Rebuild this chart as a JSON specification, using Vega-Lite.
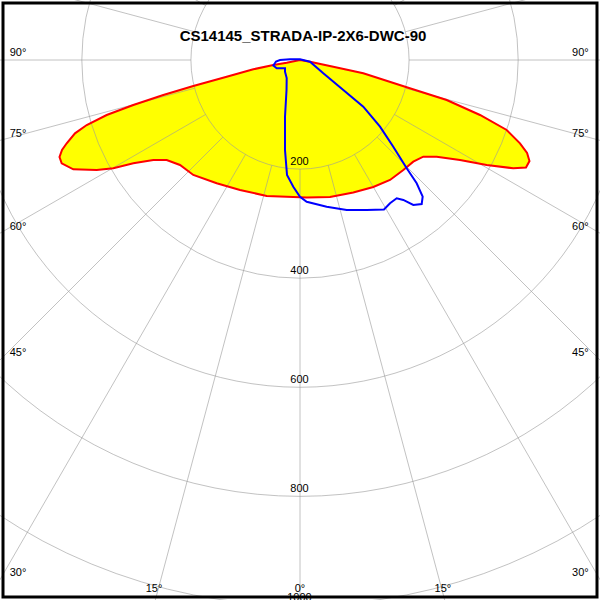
{
  "$schema": "https://vega.github.io/schema/vega-lite/v6.json",
  "width": 600,
  "height": 600,
  "padding": 0,
  "autosize": "none",
  "background": "white",
  "config": {"view": {"stroke": null}},
  "datasets": {
    "red": [
      {"i": 1, "x": 0, "y": 0},
      {"i": 2, "x": 18.3, "y": -3.1},
      {"i": 3, "x": 61.0, "y": -12.3},
      {"i": 4, "x": 116.0, "y": -24.4},
      {"i": 5, "x": 195.6, "y": -50.0},
      {"i": 6, "x": 268.9, "y": -73.3},
      {"i": 7, "x": 330.0, "y": -100.8},
      {"i": 8, "x": 378.9, "y": -128.3},
      {"i": 9, "x": 403.3, "y": -152.7},
      {"i": 10, "x": 416.3, "y": -170.5},
      {"i": 11, "x": 420.7, "y": -185.2},
      {"i": 12, "x": 414.3, "y": -197.1},
      {"i": 13, "x": 391.0, "y": -198.5},
      {"i": 14, "x": 342.3, "y": -192.5},
      {"i": 15, "x": 293.3, "y": -183.3},
      {"i": 16, "x": 250.6, "y": -177.3},
      {"i": 17, "x": 226.0, "y": -177.3},
      {"i": 18, "x": 207.7, "y": -186.4},
      {"i": 19, "x": 189.4, "y": -201.7},
      {"i": 20, "x": 165.0, "y": -220.0},
      {"i": 21, "x": 134.4, "y": -232.8},
      {"i": 22, "x": 97.7, "y": -242.9},
      {"i": 23, "x": 55.0, "y": -251.1},
      {"i": 24, "x": 12.3, "y": -252.1},
      {"i": 25, "x": 0, "y": -251.7},
      {"i": 26, "x": -61.0, "y": -249.3},
      {"i": 27, "x": -110.0, "y": -238.3},
      {"i": 28, "x": -152.7, "y": -226.0},
      {"i": 29, "x": -195.6, "y": -210.8},
      {"i": 30, "x": -220.0, "y": -192.5},
      {"i": 31, "x": -244.4, "y": -183.3},
      {"i": 32, "x": -268.9, "y": -183.3},
      {"i": 33, "x": -305.6, "y": -189.4},
      {"i": 34, "x": -342.3, "y": -198.5},
      {"i": 35, "x": -372.7, "y": -201.7},
      {"i": 36, "x": -415.6, "y": -200.4},
      {"i": 37, "x": -436.9, "y": -189.4},
      {"i": 38, "x": -440.9, "y": -177.8},
      {"i": 39, "x": -436.3, "y": -165.0},
      {"i": 40, "x": -427.7, "y": -152.7},
      {"i": 41, "x": -412.5, "y": -134.4},
      {"i": 42, "x": -391.0, "y": -119.2},
      {"i": 43, "x": -354.4, "y": -100.8},
      {"i": 44, "x": -305.6, "y": -82.5},
      {"i": 45, "x": -250.6, "y": -64.2},
      {"i": 46, "x": -195.6, "y": -47.7},
      {"i": 47, "x": -134.4, "y": -30.6},
      {"i": 48, "x": -85.6, "y": -17.0},
      {"i": 49, "x": -48.9, "y": -9.2},
      {"i": 50, "x": -24.4, "y": -4.9}
    ],
    "blue": [
      {"i": 1, "x": -27.5, "y": -21.4},
      {"i": 2, "x": -27.5, "y": -15.2},
      {"i": 3, "x": -42.7, "y": -15.2},
      {"i": 4, "x": -48.9, "y": -10.1},
      {"i": 5, "x": -44.0, "y": -2.7},
      {"i": 6, "x": -36.7, "y": 0},
      {"i": 7, "x": -18.3, "y": 1.3},
      {"i": 8, "x": 0, "y": 1.3},
      {"i": 9, "x": 18.3, "y": -3.1},
      {"i": 10, "x": 42.7, "y": -24.4},
      {"i": 11, "x": 79.4, "y": -55.0},
      {"i": 12, "x": 116.0, "y": -85.6},
      {"i": 13, "x": 146.7, "y": -122.3},
      {"i": 14, "x": 171.0, "y": -158.9},
      {"i": 15, "x": 195.6, "y": -198.5},
      {"i": 16, "x": 213.9, "y": -226.0},
      {"i": 17, "x": 224.9, "y": -250.6},
      {"i": 18, "x": 223.1, "y": -264.0},
      {"i": 19, "x": 207.7, "y": -265.8},
      {"i": 20, "x": 189.4, "y": -256.6},
      {"i": 21, "x": 177.3, "y": -253.5},
      {"i": 22, "x": 165.0, "y": -262.7},
      {"i": 23, "x": 154.0, "y": -274.1},
      {"i": 24, "x": 122.3, "y": -275.0},
      {"i": 25, "x": 85.6, "y": -275.0},
      {"i": 26, "x": 48.9, "y": -268.9},
      {"i": 27, "x": 12.3, "y": -259.8},
      {"i": 28, "x": 0, "y": -250.6},
      {"i": 29, "x": -12.3, "y": -232.3},
      {"i": 30, "x": -23.8, "y": -210.8},
      {"i": 31, "x": -27.5, "y": -165.0},
      {"i": 32, "x": -27.5, "y": -103.9},
      {"i": 33, "x": -24.7, "y": -55.0},
      {"i": 34, "x": -24.4, "y": -33.0}
    ],
    "circles": [{"r": 200}, {"r": 400}, {"r": 600}, {"r": 800}, {"r": 1000}],
    "rays": [
      {"x1": 0, "y1": -200, "x2": 0, "y2": -1400},
      {"x1": 51.76, "y1": -193.19, "x2": 362.35, "y2": -1352.3},
      {"x1": 100, "y1": -173.21, "x2": 700, "y2": -1212.44},
      {"x1": 141.42, "y1": -141.42, "x2": 989.95, "y2": -989.95},
      {"x1": 173.21, "y1": -100, "x2": 1212.44, "y2": -700},
      {"x1": 193.19, "y1": -51.76, "x2": 1352.3, "y2": -362.35},
      {"x1": 200, "y1": 0, "x2": 1400, "y2": 0},
      {"x1": 193.19, "y1": 51.76, "x2": 1352.3, "y2": 362.35},
      {"x1": 173.21, "y1": 100, "x2": 1212.44, "y2": 700},
      {"x1": -51.76, "y1": -193.19, "x2": -362.35, "y2": -1352.3},
      {"x1": -100, "y1": -173.21, "x2": -700, "y2": -1212.44},
      {"x1": -141.42, "y1": -141.42, "x2": -989.95, "y2": -989.95},
      {"x1": -173.21, "y1": -100, "x2": -1212.44, "y2": -700},
      {"x1": -193.19, "y1": -51.76, "x2": -1352.3, "y2": -362.35},
      {"x1": -200, "y1": 0, "x2": -1400, "y2": 0},
      {"x1": -193.19, "y1": 51.76, "x2": -1352.3, "y2": 362.35},
      {"x1": -173.21, "y1": 100, "x2": -1212.44, "y2": 700}
    ],
    "labels": [
      {"t": "90°", "x": -517, "y": 12.8},
      {"t": "90°", "x": 514, "y": 12.8},
      {"t": "75°", "x": -517, "y": -135},
      {"t": "75°", "x": 514, "y": -135},
      {"t": "60°", "x": -517, "y": -305.6},
      {"t": "60°", "x": 514, "y": -305.6},
      {"t": "45°", "x": -517, "y": -537.7},
      {"t": "45°", "x": 514, "y": -537.7},
      {"t": "30°", "x": -517, "y": -939.9},
      {"t": "30°", "x": 514, "y": -939.9},
      {"t": "15°", "x": -267.6, "y": -969.2},
      {"t": "15°", "x": 262, "y": -969.2},
      {"t": "0°", "x": 0, "y": -969.2},
      {"t": "200", "x": -1, "y": -186.5},
      {"t": "400", "x": -1, "y": -386.5},
      {"t": "600", "x": -1, "y": -586.5},
      {"t": "800", "x": -1, "y": -786.5},
      {"t": "1000", "x": -1, "y": -986.5}
    ],
    "title": [{"t": "CS14145_STRADA-IP-2X6-DWC-90", "x": 5.5, "y": 44}]
  },
  "layer": [
    {
      "data": {"name": "red"},
      "mark": {"type": "line", "interpolate": "linear-closed", "fill": "#FFFF00", "strokeOpacity": 0, "clip": true},
      "encoding": {
        "x": {"field": "x", "type": "quantitative", "scale": {"domain": [-550, 550], "nice": false, "zero": false}, "axis": null},
        "y": {"field": "y", "type": "quantitative", "scale": {"domain": [-990, 110], "nice": false, "zero": false}, "axis": null},
        "order": {"field": "i", "type": "quantitative"}
      }
    },
    {
      "data": {"name": "circles"},
      "mark": {"type": "arc", "theta": 0, "theta2": 6.2832, "filled": false, "stroke": "#999999", "strokeOpacity": 0.6, "strokeWidth": 1, "clip": true},
      "encoding": {
        "x": {"datum": 0, "type": "quantitative", "scale": {"domain": [-550, 550], "nice": false, "zero": false}, "axis": null},
        "y": {"datum": 0, "type": "quantitative", "scale": {"domain": [-990, 110], "nice": false, "zero": false}, "axis": null},
        "radius": {"field": "r", "type": "quantitative", "stack": null, "scale": {"type": "linear", "domain": [0, 1100], "range": [0, 600], "zero": true}}
      }
    },
    {
      "data": {"name": "rays"},
      "mark": {"type": "rule", "stroke": "#999999", "strokeOpacity": 0.6, "strokeWidth": 1, "clip": true},
      "encoding": {
        "x": {"field": "x1", "type": "quantitative", "scale": {"domain": [-550, 550], "nice": false, "zero": false}, "axis": null},
        "y": {"field": "y1", "type": "quantitative", "scale": {"domain": [-990, 110], "nice": false, "zero": false}, "axis": null},
        "x2": {"field": "x2"},
        "y2": {"field": "y2"}
      }
    },
    {
      "data": {"name": "red"},
      "mark": {"type": "line", "interpolate": "linear-closed", "color": "#FF0000", "strokeWidth": 2, "clip": true},
      "encoding": {
        "x": {"field": "x", "type": "quantitative", "scale": {"domain": [-550, 550], "nice": false, "zero": false}, "axis": null},
        "y": {"field": "y", "type": "quantitative", "scale": {"domain": [-990, 110], "nice": false, "zero": false}, "axis": null},
        "order": {"field": "i", "type": "quantitative"}
      }
    },
    {
      "data": {"name": "blue"},
      "mark": {"type": "line", "interpolate": "linear-closed", "color": "#0000FF", "strokeWidth": 2, "clip": true},
      "encoding": {
        "x": {"field": "x", "type": "quantitative", "scale": {"domain": [-550, 550], "nice": false, "zero": false}, "axis": null},
        "y": {"field": "y", "type": "quantitative", "scale": {"domain": [-990, 110], "nice": false, "zero": false}, "axis": null},
        "order": {"field": "i", "type": "quantitative"}
      }
    },
    {
      "data": {"name": "labels"},
      "mark": {"type": "text", "font": "Liberation Sans", "fontSize": 11, "color": "black", "align": "center", "baseline": "middle", "clip": true},
      "encoding": {
        "x": {"field": "x", "type": "quantitative", "scale": {"domain": [-550, 550], "nice": false, "zero": false}, "axis": null},
        "y": {"field": "y", "type": "quantitative", "scale": {"domain": [-990, 110], "nice": false, "zero": false}, "axis": null},
        "text": {"field": "t"}
      }
    },
    {
      "data": {"name": "title"},
      "mark": {"type": "text", "font": "Liberation Sans", "fontSize": 15, "fontWeight": "bold", "color": "black", "align": "center", "baseline": "middle"},
      "encoding": {
        "x": {"field": "x", "type": "quantitative", "scale": {"domain": [-550, 550], "nice": false, "zero": false}, "axis": null},
        "y": {"field": "y", "type": "quantitative", "scale": {"domain": [-990, 110], "nice": false, "zero": false}, "axis": null},
        "text": {"field": "t"}
      }
    },
    {
      "data": {"values": [{"bx1": -544.5, "bx2": 544.5, "by1": -984.5, "by2": 104.5}]},
      "mark": {"type": "rect", "filled": false, "stroke": "#000000", "strokeWidth": 3},
      "encoding": {
        "x": {"field": "bx1", "type": "quantitative", "scale": {"domain": [-550, 550], "nice": false, "zero": false}, "axis": null},
        "x2": {"field": "bx2"},
        "y": {"field": "by1", "type": "quantitative", "scale": {"domain": [-990, 110], "nice": false, "zero": false}, "axis": null},
        "y2": {"field": "by2"}
      }
    }
  ]
}
